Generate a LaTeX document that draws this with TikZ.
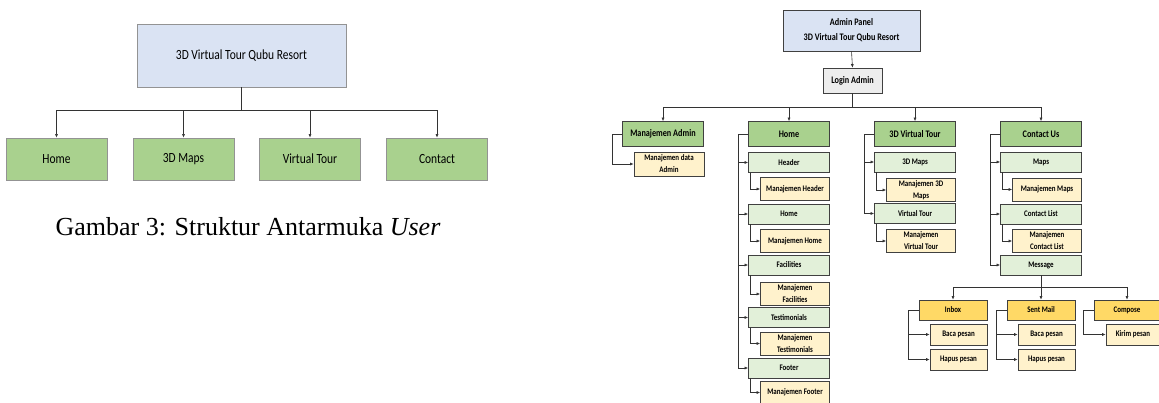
\documentclass[tikz,border=0pt]{standalone}
\usepackage{fontspec}
\setmainfont{Liberation Serif}
\newfontfamily\calibri[FakeStretch=0.82]{Carlito}
\usetikzlibrary{arrows.meta}

\definecolor{paneblue}{HTML}{DAE3F3}
\definecolor{headgreen}{HTML}{A9D18E}
\definecolor{subgreen}{HTML}{E2F0D9}
\definecolor{leafyellow}{HTML}{FFF2CC}
\definecolor{mailgold}{HTML}{FFD966}
\definecolor{logingray}{HTML}{EDEDED}

\tikzset{
  userbox/.style={draw=gray!85, line width=0.7pt, rectangle, align=center,
    font=\calibri\fontsize{14}{16}\selectfont},
  adminbox/.style={draw=black!75, line width=0.7pt, rectangle, align=center, inner sep=1pt},
  head/.style={adminbox, fill=headgreen, minimum width=81pt, minimum height=25pt,
    font=\calibri\bfseries\fontsize{10}{12}\selectfont},
  sub/.style={adminbox, fill=subgreen, minimum width=81pt, minimum height=20pt,
    font=\calibri\bfseries\fontsize{8.5}{12}\selectfont},
  leaf/.style={adminbox, fill=leafyellow, minimum width=69pt, minimum height=23pt,
    font=\calibri\bfseries\fontsize{8.5}{12}\selectfont},
  mail/.style={adminbox, fill=mailgold, minimum width=68pt, minimum height=20pt,
    font=\calibri\bfseries\fontsize{8.5}{12}\selectfont},
  mailleaf/.style={leaf, minimum width=57pt, minimum height=21pt},
  link/.style={draw=black!80, line width=0.6pt, -{Latex[length=3.5pt,width=3pt]}}
}

\begin{document}
\begin{tikzpicture}[x=1pt, y=-1pt]
  \useasboundingbox (0,0) rectangle (1159,403);

  % Struktur antarmuka user
  \node[userbox, fill=paneblue, minimum width=209pt, minimum height=63pt] (root) at (241.5,55.5) {3D Virtual Tour Qubu Resort};
  \foreach \n/\x/\t in {uhome/56.5/Home, umaps/183.5/3D Maps, utour/310/Virtual Tour, ucontact/437/Contact} {
    \node[userbox, fill=headgreen, minimum width=101pt, minimum height=42pt] (\n) at (\x,159) {\t};
    \draw[link] (root.south) -- ++(0,23) -| (\n.north);
  }
  \node[font=\fontsize{26}{30}\selectfont] (caption) at (248,227) {Gambar 3: Struktur Antarmuka \textit{User}};

  % Admin panel dan login
  \node[adminbox, fill=paneblue, minimum width=137pt, minimum height=41pt,
    font=\calibri\bfseries\fontsize{10}{15}\selectfont] (panel) at (851.5,30.5) {Admin Panel\\3D Virtual Tour Qubu Resort};
  \node[adminbox, fill=logingray, minimum width=59pt, minimum height=25pt,
    font=\calibri\bfseries\fontsize{10}{12}\selectfont] (login) at (852.5,80.5) {Login Admin};
  \draw[link] (panel.south) -- (login.north);

  % Menu utama
  \foreach \n/\x/\t in {madmin/663/Manajemen Admin, home/789/Home, vtour/915/3D Virtual Tour, contact/1041/Contact Us} {
    \node[head] (\n) at (\x,134) {\t};
    \draw[link] (login.south) -- ++(0,14) -| (\n.north);
  }

  % Manajemen admin
  \node[leaf, minimum width=70pt, minimum height=24pt] (mdata) at (669,164) {Manajemen data\\Admin};
  \draw[link] (madmin.west) -- ++(-10,0) |- (mdata.west);

  % Kolom home
  \foreach \n/\y/\t in {hdr/162.5/Header, hom/214/Home, fac/265/Facilities, tes/317.5/Testimonials, foo/368/Footer} {
    \node[sub] (\n) at (789,\y) {\t};
    \draw[link] (home.west) -- ++(-10,0) |- (\n.west);
  }
  \foreach \p/\n/\y/\t in {hdr/mhdr/189/{Manajemen Header}, hom/mhom/241/{Manajemen Home}, fac/mfac/294/{Manajemen\\Facilities},
      tes/mtes/343.5/{Manajemen\\Testimonials}, foo/mfoo/392.5/{Manajemen Footer}} {
    \node[leaf] (\n) at (795,\y) {\t};
    \draw[link] ([xshift=2pt]\p.south west) |- (\n.west);
  }

  % Kolom 3D virtual tour
  \foreach \n/\y/\t in {dmaps/162/3D Maps, dtour/213.5/Virtual Tour} {
    \node[sub] (\n) at (915,\y) {\t};
    \draw[link] (vtour.west) -- ++(-10,0) |- (\n.west);
  }
  \foreach \p/\n/\y/\t in {dmaps/mdmaps/190/{Manajemen 3D\\Maps}, dtour/mdtour/241/{Manajemen\\Virtual Tour}} {
    \node[leaf] (\n) at (921,\y) {\t};
    \draw[link] ([xshift=2pt]\p.south west) |- (\n.west);
  }

  % Kolom contact us
  \foreach \n/\y/\t in {maps/162/Maps, clist/214/Contact List, message/265/Message} {
    \node[sub] (\n) at (1041,\y) {\t};
    \draw[link] (contact.west) -- ++(-10,0) |- (\n.west);
  }
  \foreach \p/\n/\y/\t in {maps/mmaps/189.5/{Manajemen Maps}, clist/mclist/241/{Manajemen\\Contact List}} {
    \node[leaf] (\n) at (1047,\y) {\t};
    \draw[link] ([xshift=2pt]\p.south west) |- (\n.west);
  }

  % Pesan
  \node[mail] (inbox) at (953,310) {Inbox};
  \node[mail] (sent) at (1041,310) {Sent Mail};
  \node[mail, minimum width=66pt] (compose) at (1127,310) {Compose};
  \foreach \n in {inbox, sent, compose}
    \draw[link] (message.south) -- ++(0,12) -| (\n.north);

  \node[mailleaf] (baca1) at (958.5,334.5) {Baca pesan};
  \node[mailleaf] (hapus1) at (958.5,359.5) {Hapus pesan};
  \node[mailleaf] (baca2) at (1046.5,334.5) {Baca pesan};
  \node[mailleaf] (hapus2) at (1046.5,359.5) {Hapus pesan};
  \node[mailleaf, minimum width=54pt] (kirim) at (1133,334.5) {Kirim pesan};
  \foreach \p/\n in {inbox/baca1, inbox/hapus1, sent/baca2, sent/hapus2, compose/kirim}
    \draw[link] (\p.west) -- ++(-10,0) |- (\n.west);
\end{tikzpicture}
\end{document}
